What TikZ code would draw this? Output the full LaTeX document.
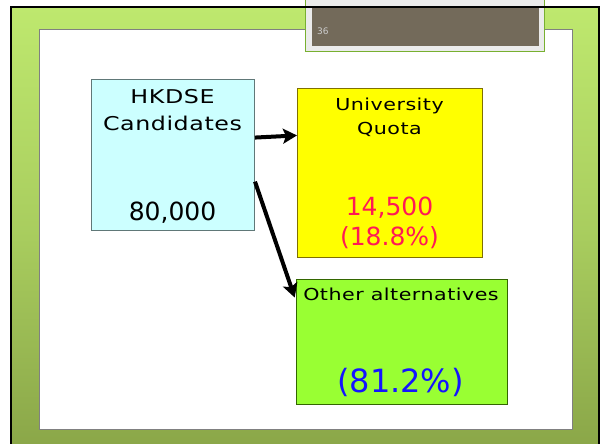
\documentclass[tikz,border=0pt]{standalone}
\usepackage{fontspec}
\setmainfont{DejaVu Sans}[FakeStretch=1.25,LetterSpace=3]
\newfontfamily\numfont{DejaVu Sans}
\usetikzlibrary{arrows.meta}
\definecolor{framelight}{RGB}{190,232,110}
\definecolor{framedark}{RGB}{138,166,72}
\definecolor{headfill}{RGB}{115,106,90}
\definecolor{headline}{RGB}{120,176,48}
\definecolor{candfill}{RGB}{204,255,255}
\definecolor{candline}{RGB}{96,120,120}
\definecolor{quotafill}{RGB}{255,255,0}
\definecolor{quotaline}{RGB}{128,112,0}
\definecolor{otherfill}{RGB}{153,255,51}
\definecolor{otherline}{RGB}{51,102,0}
\definecolor{quotatext}{RGB}{255,25,85}
\definecolor{othertext}{RGB}{20,20,255}
\newcommand\bigword{\fontsize{19}{23}\selectfont}
\newcommand\smallword{\fontsize{16.5}{20}\selectfont}
\newcommand\bignum{\numfont\fontsize{25}{30}\selectfont}
\newcommand\hugenum{\numfont\fontsize{32}{38}\selectfont}
\tikzset{
  box/.style={draw, line width=1pt, inner sep=0pt, anchor=north west},
  word/.style={anchor=base, inner sep=0pt},
  arrowline/.style={line width=4pt, -{Stealth[length=14pt,width=15pt,inset=3pt]}},
}
\begin{document}
\begin{tikzpicture}[x=1pt,y=-1pt]
  \useasboundingbox (0,0) rectangle (602,444);
  % slide frame
  \begin{scope}
    \clip (0,0) rectangle (602,444);
    \shade[top color=framelight, bottom color=framedark, middle color=framelight!60!framedark] (11,7) rectangle (599,450);
  \end{scope}
  \draw[fill=white, draw=gray] (39,29) rectangle (572,429);
  % slide number
  \fill[white!92!black] (305,0) rectangle (544,51);
  \draw[headline] (305,51) -- (305,0) (305,51) -- (544,51) -- (544,0);
  \node[box, draw=none, fill=headfill, minimum width=227pt, minimum height=39pt] (header) at (311,7) {};
  \node[anchor=base west, inner sep=0pt, text=white!80!black, font=\numfont\fontsize{9}{10}\selectfont] (pagenum) at (317,35) {36};
  \begin{scope}
    \clip (0,0) rectangle (602,444);
    \draw[line width=2.5pt] (11,7) rectangle (599,470);
  \end{scope}
  % boxes
  \node[box, fill=candfill, draw=candline, minimum width=163pt, minimum height=151pt] (cand) at (91,79) {};
  \node[box, fill=quotafill, draw=quotaline, minimum width=185pt, minimum height=169pt] (quota) at (297,88) {};
  \node[box, fill=otherfill, draw=otherline, minimum width=211pt, minimum height=125pt] (other) at (296,279) {};
  % texts
  \node[word, font=\bigword] (hkdse) at (172.5,103) {HKDSE};
  \node[word, font=\bigword] (candtitle) at (172.5,130) {Candidates};
  \node[word, font=\bignum] (candnum) at (172.5,220) {80,000};
  \node[word, font=\smallword] (univ) at (389.5,110) {University};
  \node[word, font=\smallword] (quotatitle) at (389.5,134) {Quota};
  \node[word, font=\bignum, text=quotatext] (quotanum) at (389.5,215) {14,500};
  \node[word, font=\bignum, text=quotatext] (quotapct) at (389.5,245) {(18.8\%)};
  \node[word, font=\smallword] (othertitle) at (401,300) {Other alternatives};
  \node[word, font=\hugenum, text=othertext] (otherpct) at (400.5,392) {(81.2\%)};
  % arrows
  \draw[arrowline] (cand.12.8) -- (quota.158.5);
  \draw[arrowline, shorten >=4pt] (cand.-18.6) -- (other.159);
\end{tikzpicture}
\end{document}
